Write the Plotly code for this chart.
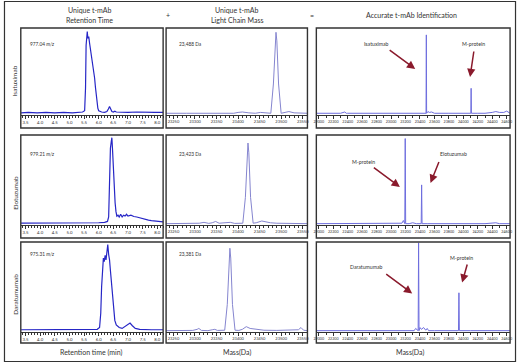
import plotly.graph_objects as go

W, H = 520, 364
FONT = "Lato"

# ---------------- data ----------------
rows = ["Isatuximab", "Elotuzumab", "Daratumumab"]
mz_labels = ["977.04", "979.21", "975.31"]
mass_labels = ["23,488 Da", "23,423 Da", "23,381 Da"]

# retention time chromatograms (min, relative intensity %)
rt1_t = [3.35, 3.6, 3.9, 4.2, 4.5, 4.8, 5.1, 5.3, 5.45, 5.52, 5.55, 5.57, 5.59, 5.61, 5.63, 5.66, 5.69, 5.72,
         5.76, 5.80, 5.83, 5.86, 5.89, 5.93, 5.97, 6.0, 6.1, 6.2, 6.28, 6.33, 6.37, 6.41, 6.45, 6.5, 6.55, 6.6,
         6.8, 7.0, 7.3, 7.6, 7.9, 8.2]
rt1_i = [1.5, 2, 1.5, 2, 1.5, 2, 1.5, 2, 2.5, 4, 30, 80, 92, 96, 88, 90, 82, 75, 65, 57, 52, 42, 31, 15, 7, 4,
         2.5, 2, 3, 6, 9, 6, 3, 2.5, 3.5, 2.5, 2, 2, 2.5, 2, 2, 2]

rt2_t = [3.35, 3.7, 4.1, 4.5, 4.9, 5.3, 5.7, 6.0, 6.2, 6.3, 6.34, 6.37, 6.40, 6.43, 6.45, 6.47, 6.50, 6.53, 6.56,
         6.59, 6.62, 6.66, 6.70, 6.75, 6.80, 6.85, 6.90, 6.95, 7.0, 7.1, 7.2, 7.3, 7.4, 7.5, 7.6, 7.7, 7.8, 7.9,
         8.0, 8.2]
rt2_i = [1, 1, 1, 1, 1, 1, 1.5, 1.5, 2, 3, 8, 55, 85, 93, 97, 85, 62, 42, 24, 14, 9, 10, 8, 11, 8, 10, 9, 11, 9,
         10, 8.5, 8, 7, 6, 5, 4.5, 4, 3.5, 3, 2.5]

rt3_t = [3.35, 3.7, 4.1, 4.5, 4.9, 5.3, 5.7, 5.95, 6.03, 6.07, 6.10, 6.13, 6.16, 6.19, 6.22, 6.25, 6.28, 6.31,
         6.34, 6.37, 6.40, 6.43, 6.46, 6.50, 6.55, 6.6, 6.7, 6.8, 6.9, 7.0, 7.07, 7.15, 7.25, 7.4, 7.6, 7.8, 8.0,
         8.2]
rt3_i = [1.5, 1.5, 1.5, 1.5, 1.5, 1.5, 1.5, 2, 4, 20, 50, 72, 82, 78, 85, 80, 90, 97, 86, 80, 68, 55, 42, 28, 12,
         7, 4, 3, 5, 8, 9, 6, 3, 2, 1.5, 1.5, 1.5, 1.5]

# light chain deconvoluted mass spectra (Da, %)
lc1_m = [23233, 23260, 23280, 23300, 23330, 23360, 23390, 23400, 23410, 23425, 23440, 23452, 23465, 23476,
         23482, 23486, 23488, 23490, 23494, 23500, 23510, 23518, 23530, 23545, 23561]
lc1_i = [1, 1.5, 1, 1, 1, 1, 1, 2, 2.5, 1.5, 1, 2, 1, 1, 35, 85, 95, 85, 35, 1, 2.5, 3, 1.5, 1, 1]

lc2_m = [23233, 23260, 23290, 23310, 23321, 23332, 23340, 23348, 23356, 23370, 23382, 23392, 23405, 23411,
         23417, 23421, 23423, 23425, 23429, 23435, 23442, 23455, 23465, 23475, 23490, 23510, 23530, 23545, 23561]
lc2_i = [0.5, 0.5, 0.5, 1, 2, 0.8, 1.5, 3, 1, 1.2, 2, 0.8, 0.5, 1, 30, 80, 91, 80, 30, 1, 1.5, 3.5, 2.5, 1.5, 1,
         1, 0.8, 0.8, 0.5]

lc3_m = [23233, 23270, 23295, 23305, 23309, 23315, 23330, 23340, 23346, 23352, 23362, 23369, 23375, 23379,
         23381, 23383, 23387, 23393, 23402, 23410, 23419, 23428, 23440, 23460, 23490, 23510, 23530, 23540,
         23546, 23552, 23561]
lc3_i = [0.5, 0.5, 0.8, 2, 3, 0.8, 0.5, 1.5, 2, 0.8, 0.5, 1, 30, 82, 93, 82, 30, 1, 0.8, 2, 5, 3, 2, 1, 0.8,
         0.8, 0.8, 1.5, 4, 1, 0.5]

# accurate identification spectra (Da, %)
id1_m = [21966, 22100, 22300, 22360, 22380, 22400, 22600, 22800, 23000, 23200, 23400, 23470, 23484, 23488,
         23492, 23510, 23530, 23560, 23600, 23800, 24000, 24100, 24104, 24108, 24112, 24200, 24300, 24400,
         24450, 24500, 24560, 24600, 24647]
id1_i = [1, 1, 1, 2.5, 1, 1, 1, 1, 1, 1, 1, 1, 1, 92, 1, 3, 2, 2.5, 1, 1, 1, 1, 1, 30, 1, 1, 1, 2, 3, 2, 2,
         3.5, 1]

id2_m = [21966, 22200, 22400, 22600, 22800, 23000, 23100, 23150, 23170, 23190, 23196, 23202, 23250, 23300,
         23350, 23380, 23417, 23423, 23429, 23500, 23700, 23900, 24100, 24300, 24450, 24500, 24647]
id2_i = [0.5, 0.5, 0.5, 0.5, 0.5, 0.5, 0.5, 1, 4, 0.5, 96, 0.5, 0.5, 1.5, 0.5, 0.5, 0.5, 44, 0.5, 0.5, 0.5,
         0.5, 0.5, 0.5, 1.5, 0.5, 0.5]

id3_m = [21966, 22200, 22400, 22600, 22800, 23000, 23200, 23320, 23340, 23375, 23381, 23387, 23400, 23420,
         23450, 23480, 23500, 23520, 23600, 23800, 23933, 23939, 23945, 24100, 24300, 24500, 24647]
id3_i = [0.5, 0.5, 0.5, 0.5, 0.5, 0.5, 0.5, 0.5, 3, 0.5, 99, 0.5, 4, 2, 4, 1, 3, 0.5, 0.5, 0.5, 0.5, 43, 0.5,
         0.5, 0.5, 0.5, 0.5]

rt_ticks = [3.5, 4.0, 4.5, 5.0, 5.5, 6.0, 6.5, 7.0, 7.5, 8.0]
lc_ticks = [23250, 23300, 23350, 23400, 23450, 23500, 23550]
id_ticks = list(range(22000, 24601, 200))

# ---------------- layout geometry (pixels) ----------------
cols_px = [(18, 162), (165, 308), (317, 513)]
rows_px = [(28, 115, 128), (135, 225, 238), (242, 332, 343)]   # top, axis, box bottom
xranges = [[3.34, 8.2], [23233, 23561], [21966, 24647]]


def px(x):
    return x / W


def py(y):
    return 1 - y / H


series = [
    [(rt1_t, rt1_i), (lc1_m, lc1_i), (id1_m, id1_i)],
    [(rt2_t, rt2_i), (lc2_m, lc2_i), (id2_m, id2_i)],
    [(rt3_t, rt3_i), (lc3_m, lc3_i), (id3_m, id3_i)],
]
colors = ["#2626c6", "#8585cf", "#6e6ede"]
widths = [1.2, 1.0, 1.0]
tickvals = [rt_ticks, lc_ticks, id_ticks]
ticktext = [["%.1f" % v for v in rt_ticks], [str(v) for v in lc_ticks], [str(v) for v in id_ticks]]
tick_sizes = [4.3, 4.0, 3.7]
minor_dt = [0.1, 10, 100]

fig = go.Figure()
layout = dict(width=W, height=H, margin=dict(l=0, r=0, t=0, b=0), showlegend=False,
              paper_bgcolor="white", plot_bgcolor="white", font=dict(family=FONT, color="#333"))
shapes = []
annotations = []

n = 0
for r in range(3):
    top, axis_y, box_b = rows_px[r]
    for c in range(3):
        n += 1
        xa = "xaxis" if n == 1 else "xaxis%d" % n
        ya = "yaxis" if n == 1 else "yaxis%d" % n
        xr = "x" if n == 1 else "x%d" % n
        yr = "y" if n == 1 else "y%d" % n
        l, rr = cols_px[c]
        xs, ys = series[r][c]
        fig.add_trace(go.Scatter(x=xs, y=ys, mode="lines", xaxis=xr, yaxis=yr,
                                 line=dict(color=colors[c], width=widths[c]), hoverinfo="skip"))
        layout[xa] = dict(domain=[px(l), px(rr)], anchor=yr, range=xranges[c], showgrid=False,
                          zeroline=False, showline=True, linecolor="#333", linewidth=1,
                          ticks="outside", ticklen=2.5, tickwidth=0.8, tickcolor="#333",
                          tickvals=tickvals[c], ticktext=ticktext[c], tickangle=0,
                          tickfont=dict(size=tick_sizes[c], color="#333", family=FONT),
                          minor=dict(ticks="outside", ticklen=1.5, tickwidth=0.6, tickcolor="#333",
                                     dtick=minor_dt[c]),
                          fixedrange=True)
        layout[ya] = dict(domain=[py(axis_y), py(top)], anchor=xr, range=[-1, 100], visible=False,
                          fixedrange=True)
        shapes.append(dict(type="rect", xref="paper", yref="paper", x0=px(l), x1=px(rr), y0=py(box_b),
                           y1=py(top), line=dict(color="#333", width=1.4), layer="above"))

# outer frame
shapes.append(dict(type="rect", xref="paper", yref="paper", x0=px(1.5), x1=px(518.5), y0=py(361.5),
                   y1=py(1.5), line=dict(color="#333", width=1.2)))


def text(x, y, t, size=6, xanchor="center", angle=0, color="#333"):
    annotations.append(dict(x=px(x), y=py(y), xref="paper", yref="paper", text=t, showarrow=False,
                            xanchor=xanchor, yanchor="middle", textangle=angle,
                            font=dict(size=size, color=color, family=FONT)))


# headers
text(88, 10, "Unique t-mAb", 7)
text(88, 20, "Retention Time", 7)
text(167, 15, "+", 7)
text(237, 10, "Unique t-mAb", 7)
text(237, 20, "Light Chain Mass", 7)
text(313, 15, "=", 7)
text(413, 15, "Accurate t-mAb Identification", 7)

# row labels
for yc, lab in zip([80.5, 193, 294], rows):
    text(12, yc, lab, 6.5, angle=-90)

# in-panel labels
for yc, mz, ms in zip([43.5, 154, 254], mz_labels, mass_labels):
    text(25, yc, mz + " <i>m/z</i>", 4.8, xanchor="left")
    text(176, yc, ms, 4.8, xanchor="left")

# bottom titles
text(89, 352, "Retention time (min)", 7)
text(237, 352, "Mass(Da)", 7)
text(412, 352, "Mass(Da)", 7)

# arrows and labels in identification column
arrow_labels = [("Isatuximab", 378, 44), ("M-protein", 476, 44), ("M-protein", 365, 161.5),
                ("Elotuzumab", 456, 154), ("Daratumumab", 368, 266.5), ("M-protein", 464, 257.5)]
for t, x, y in arrow_labels:
    text(x, y, t, 5.2)

arrows = [((390, 49), (417, 69)), ((476.5, 50), (472.5, 77)), ((374, 166.5), (401.5, 187)),
          ((441.5, 160.5), (432.5, 183)), ((386.5, 273), (414, 293.5)), ((470, 263), (464.5, 282.5))]
for (tx, ty), (hx, hy) in arrows:
    annotations.append(dict(x=px(hx), y=py(hy), xref="paper", yref="paper", text="", showarrow=True,
                            ax=tx - hx, ay=ty - hy, axref="pixel", ayref="pixel",
                            arrowhead=2, arrowsize=1.1, arrowwidth=1.5, arrowcolor="#8a1a2c", standoff=0))

layout["shapes"] = shapes
layout["annotations"] = annotations
fig.update_layout(**layout)
fig.write_html("out.html", config={"displayModeBar": False},
               post_script="document.body.style.margin='0px';document.body.style.overflow='hidden';")
